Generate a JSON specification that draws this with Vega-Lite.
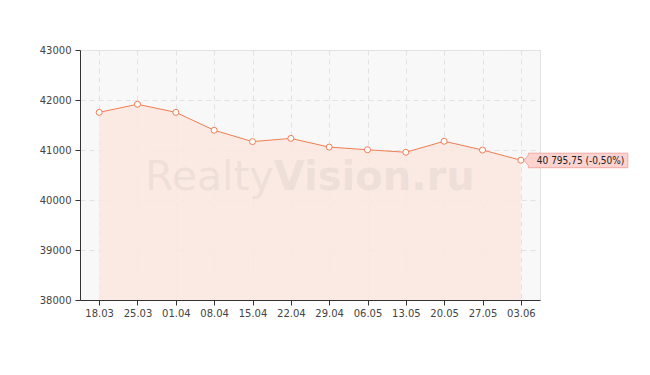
{
  "$schema": "https://vega.github.io/schema/vega-lite/v6.json",
  "width": 460,
  "height": 250,
  "autosize": {"type": "none"},
  "padding": {"left": 80, "top": 50, "right": 110, "bottom": 75},
  "background": "white",
  "config": {
    "font": "DejaVu Sans",
    "view": {"fill": "#f8f8f8", "stroke": "#e3e3e3"}
  },
  "data": {
    "values": [
      {"d": "18.03", "v": 41753},
      {"d": "25.03", "v": 41915},
      {"d": "01.04", "v": 41753},
      {"d": "08.04", "v": 41395},
      {"d": "15.04", "v": 41168},
      {"d": "22.04", "v": 41232},
      {"d": "29.04", "v": 41058},
      {"d": "06.05", "v": 41005},
      {"d": "13.05", "v": 40955},
      {"d": "20.05", "v": 41175},
      {"d": "27.05", "v": 41000},
      {"d": "03.06", "v": 40795.75}
    ]
  },
  "encoding": {
    "x": {
      "field": "d", "type": "ordinal", "sort": null,
      "scale": {"type": "point", "padding": 0.5},
      "axis": {
        "title": null, "labelAngle": 0, "grid": true, "gridDash": [5, 4], "gridColor": "#e2e2e2",
        "domainColor": "#333333", "tickColor": "#333333", "tickSize": 5,
        "labelColor": "#444444", "labelFontSize": 10, "labelPadding": 3
      }
    },
    "y": {
      "field": "v", "type": "quantitative",
      "scale": {"domain": [38000, 43000], "nice": false, "zero": false},
      "axis": {
        "title": null, "values": [38000, 39000, 40000, 41000, 42000, 43000], "format": "d",
        "grid": true, "gridDash": [5, 4], "gridColor": "#e2e2e2",
        "domainColor": "#333333", "tickColor": "#333333", "tickSize": 5,
        "labelColor": "#444444", "labelFontSize": 10, "labelPadding": 4
      }
    }
  },
  "layer": [
    {"mark": {"type": "area", "color": "#fbe7e0", "opacity": 0.85}, "encoding": {"y2": {"datum": 38000}}},
    {
      "data": {"values": [{"d": "22.04", "v": 40200, "t1": "Realty", "t2": "Vision.ru"}]},
      "mark": {"type": "text", "align": "right", "baseline": "alphabetic", "fontSize": 41, "dx": -17, "color": "#000000", "opacity": 0.045},
      "encoding": {"text": {"field": "t1"}}
    },
    {
      "data": {"values": [{"d": "22.04", "v": 40200, "t1": "Realty", "t2": "Vision.ru"}]},
      "mark": {"type": "text", "align": "left", "baseline": "alphabetic", "fontSize": 40, "fontWeight": "bold", "dx": -17, "color": "#000000", "opacity": 0.045},
      "encoding": {"text": {"field": "t2"}}
    },
    {"mark": {"type": "line", "color": "#f07d52", "strokeWidth": 1}},
    {
      "transform": [{"filter": "datum.d == '03.06'"}],
      "mark": {
        "type": "point", "filled": true, "size": 10000,
        "shape": "M0.06,0 L0.15,-0.1 L0.15,-0.14 L2.14,-0.14 L2.14,0.15 L0.15,0.15 L0.15,0.1 Z",
        "fill": "#fdd3cf", "stroke": "#f2aaa3", "strokeWidth": 1, "opacity": 1
      }
    },
    {"mark": {"type": "point", "filled": true, "fill": "white", "stroke": "#f07d52", "strokeWidth": 1, "size": 36, "opacity": 1}},
    {
      "transform": [{"filter": "datum.d == '03.06'"}, {"calculate": "'40 795,75 (-0,50%)'", "as": "lbl"}],
      "mark": {"type": "text", "align": "left", "baseline": "middle", "dx": 16, "dy": 1, "fontSize": 10, "font": "DejaVu Sans Condensed", "color": "#222222"},
      "encoding": {"text": {"field": "lbl"}}
    }
  ]
}
